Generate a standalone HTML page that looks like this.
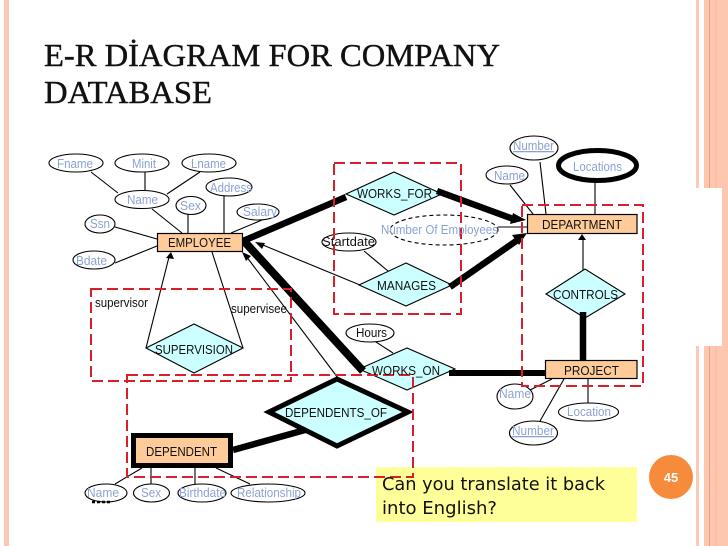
<!DOCTYPE html>
<html>
<head>
<meta charset="utf-8">
<style>
html,body{margin:0;padding:0;background:#fff}
svg{display:block}
.a{font:13px "Liberation Sans",sans-serif;fill:#8aa3d3}
.k{font:13px "Liberation Sans",sans-serif;fill:#111}
.e{fill:#fff;stroke:#000;stroke-width:1.1}
.l{stroke:#000;stroke-width:1.1;fill:none}
.d{fill:#ccffff;stroke:#000;stroke-width:1.1}
.r{fill:#ffcc99;stroke:#000;stroke-width:1.2}
.t{stroke:#000;fill:none}
.red{fill:none;stroke:#d9202a;stroke-width:2;stroke-dasharray:11 5}
</style>
</head>
<body>
<svg width="728" height="546" viewBox="0 0 728 546" xmlns="http://www.w3.org/2000/svg">
<rect width="728" height="546" fill="#fff"/>
<!-- side stripes -->
<rect x="4" y="0" width="5" height="546" fill="#fcc8b6"/>
<rect x="696" y="0" width="3" height="546" fill="#fbc9b6"/>
<rect x="704" y="0" width="24" height="546" fill="#fdc6ae"/>
<rect x="709" y="0" width="1" height="546" fill="#ee9f78"/>
<rect x="715" y="0" width="2" height="546" fill="#fbbfa6"/>
<rect x="620" y="188" width="102" height="158" fill="#fff"/>

<!-- title -->
<text x="44" y="66" font-family="'Liberation Serif',serif" font-size="32" fill="#111" stroke="#111" stroke-width="0.4" textLength="456" lengthAdjust="spacingAndGlyphs">E-R DİAGRAM FOR COMPANY</text>
<text x="44" y="103" font-family="'Liberation Serif',serif" font-size="32" fill="#111" stroke="#111" stroke-width="0.4" textLength="168" lengthAdjust="spacingAndGlyphs">DATABASE</text>

<!-- yellow note -->
<rect x="376" y="467" width="261" height="55" fill="#ffff99"/>

<!-- attribute lines -->
<path class="l" d="M91 172L118 193M145 172V190M200 172L167 194M152 209L182 233M188 214V233M224 196V233M231 233L262 220M115 227L157 239M115 263L157 246"/>
<path class="l" d="M540 162L546 214M510 185L533 214M595 183V214M498 227H527M364 251L394 276M376 342L393 353"/>
<path class="l" d="M552 379L530 390M564 379L540 421M588 379V403"/>
<path class="l" d="M142 468L115 484M151 468V484M195 468V484M216 468L250 484"/>

<!-- diamonds -->
<polygon class="d" points="346,194 394,172 442,194 394,215"/>
<polygon class="d" points="359,285 406,263 452,285 406,306"/>
<polygon class="d" points="359,369 407,348 455,369 407,390"/>
<polygon class="d" points="546,294 585,269 625,294 585,318"/>
<polygon class="d" points="146,348 194,324 243,348 194,373"/>
<polygon fill="#ccffff" stroke="#000" stroke-width="5" stroke-linejoin="miter" points="269,412 337,379 408,412 337,446"/>

<!-- thin relationship lines + arrows -->
<path class="l" d="M360 285L258 243M338 378L246 256M583 270V238M146 348L169 257M243 348L212 252"/>
<polygon points="255,242 265,243 262,249" fill="#000"/>
<polygon points="242,252 251,256 246,261" fill="#000"/>
<polygon points="582,234 586,240 578,240" fill="#000"/>
<polygon points="171,252 174,259 166,258" fill="#000"/>

<!-- thick lines -->
<path class="t" stroke-width="6.500" d="M243 241L346 197"/>
<path class="t" stroke-width="6.500" d="M437 191L516 220"/>
<polygon points="526,220 513,213 510,224" fill="#000"/>
<path class="t" stroke-width="6.500" d="M450 287L519 239"/>
<polygon points="527,233 512,235 519,245" fill="#000"/>
<path class="t" stroke-width="8" d="M243 240L363 371"/>
<path class="t" stroke-width="6" d="M449 373H546"/>
<path class="t" stroke-width="6.500" d="M583 312V360"/>
<path class="t" stroke-width="6.500" d="M233 450L305 430"/>

<!-- entities -->
<rect class="r" x="157.500" y="233.500" width="85" height="18"/>
<rect class="r" x="527.500" y="214.500" width="109.500" height="19"/>
<rect class="r" x="545.500" y="360.500" width="91.500" height="18"/>
<rect x="133.500" y="435.500" width="97" height="30" fill="#ffcc99" stroke="#000" stroke-width="5"/>

<!-- ellipses -->
<ellipse class="e" cx="76" cy="163" rx="27" ry="9"/>
<ellipse class="e" cx="142" cy="163" rx="27" ry="9"/>
<ellipse class="e" cx="209" cy="163" rx="27" ry="9"/>
<ellipse class="e" cx="142" cy="199.500" rx="27" ry="9"/>
<ellipse class="e" cx="229" cy="187" rx="23" ry="9"/>
<ellipse class="e" cx="191" cy="205.500" rx="15" ry="9"/>
<ellipse class="e" cx="258" cy="212" rx="21" ry="8"/>
<ellipse class="e" cx="100" cy="224" rx="15" ry="9"/>
<ellipse class="e" cx="94" cy="260" rx="21" ry="9"/>
<ellipse class="e" cx="534" cy="148" rx="24" ry="12"/>
<ellipse class="e" cx="507" cy="175" rx="21" ry="9"/>
<ellipse cx="597.500" cy="165.500" rx="39" ry="15" fill="#fff" stroke="#000" stroke-width="5"/>
<ellipse cx="444" cy="230" rx="54" ry="15" fill="#fff" stroke="#000" stroke-width="1.100" stroke-dasharray="4 3"/>
<ellipse class="e" cx="349" cy="242" rx="27" ry="9"/>
<ellipse class="e" cx="370" cy="333" rx="24" ry="9"/>
<ellipse class="e" cx="515" cy="396.500" rx="18" ry="12.500"/>
<ellipse class="e" cx="533.500" cy="433" rx="24" ry="12"/>
<ellipse class="e" cx="588.500" cy="412" rx="30" ry="9"/>
<ellipse class="e" cx="106" cy="493" rx="21" ry="9"/>
<ellipse class="e" cx="151.500" cy="493" rx="18" ry="9"/>
<ellipse class="e" cx="202" cy="493" rx="24" ry="9"/>
<ellipse class="e" cx="268" cy="493" rx="37" ry="9"/>
<path d="M92 502H112" stroke="#000" stroke-width="2.500" stroke-dasharray="3 2" fill="none"/>

<!-- red dashed boxes -->
<rect class="red" x="91" y="289" width="200" height="92"/>
<rect class="red" x="127" y="375" width="286" height="102"/>
<rect class="red" x="334" y="163" width="127" height="151"/>
<rect class="red" x="522" y="205" width="121" height="181"/>

<!-- attribute labels -->
<text class="a" x="57" y="168" textLength="36" lengthAdjust="spacingAndGlyphs">Fname</text>
<text class="a" x="132" y="168" textLength="24" lengthAdjust="spacingAndGlyphs">Minit</text>
<text class="a" x="191" y="168" textLength="35" lengthAdjust="spacingAndGlyphs">Lname</text>
<text class="a" x="127" y="204" textLength="31" lengthAdjust="spacingAndGlyphs">Name</text>
<text class="a" x="210" y="192" textLength="42" lengthAdjust="spacingAndGlyphs">Address</text>
<text class="a" x="180" y="210" textLength="21" lengthAdjust="spacingAndGlyphs">Sex</text>
<text class="a" x="243" y="216" textLength="34" lengthAdjust="spacingAndGlyphs">Salary</text>
<text class="a" x="90" y="228" textLength="20" lengthAdjust="spacingAndGlyphs">Ssn</text>
<text class="a" x="76" y="265" textLength="31" lengthAdjust="spacingAndGlyphs">Bdate</text>
<text class="a" x="513" y="150" textLength="41" lengthAdjust="spacingAndGlyphs" text-decoration="underline">Number</text>
<text class="a" x="494" y="180" textLength="31" lengthAdjust="spacingAndGlyphs">Name</text>
<text class="a" x="573" y="171" textLength="49" lengthAdjust="spacingAndGlyphs">Locations</text>
<text class="a" x="381" y="234" textLength="117" lengthAdjust="spacingAndGlyphs">Number Of Employees</text>
<text class="a" x="499" y="398" textLength="32" lengthAdjust="spacingAndGlyphs">Name</text>
<text class="a" x="512" y="435" textLength="42" lengthAdjust="spacingAndGlyphs" text-decoration="underline">Number</text>
<text class="a" x="567" y="416" textLength="44" lengthAdjust="spacingAndGlyphs">Location</text>
<text class="a" x="87" y="497" textLength="32" lengthAdjust="spacingAndGlyphs">Name</text>
<text class="a" x="141" y="497" textLength="20" lengthAdjust="spacingAndGlyphs">Sex</text>
<text class="a" x="179" y="497" textLength="47" lengthAdjust="spacingAndGlyphs">Birthdate</text>
<text class="a" x="237" y="497" textLength="64" lengthAdjust="spacingAndGlyphs">Relationship</text>

<!-- key labels -->
<text class="k" x="168" y="247" textLength="63" lengthAdjust="spacingAndGlyphs">EMPLOYEE</text>
<text class="k" x="542" y="229" textLength="80" lengthAdjust="spacingAndGlyphs">DEPARTMENT</text>
<text class="k" x="564" y="375" textLength="55" lengthAdjust="spacingAndGlyphs">PROJECT</text>
<text class="k" x="146" y="456" textLength="71" lengthAdjust="spacingAndGlyphs">DEPENDENT</text>
<text class="k" x="357" y="198" textLength="75" lengthAdjust="spacingAndGlyphs">WORKS_FOR</text>
<text class="k" x="377" y="290" textLength="59" lengthAdjust="spacingAndGlyphs">MANAGES</text>
<text class="k" x="372" y="375" textLength="68" lengthAdjust="spacingAndGlyphs">WORKS_ON</text>
<text class="k" x="553" y="299" textLength="65" lengthAdjust="spacingAndGlyphs">CONTROLS</text>
<text class="k" x="155" y="354" textLength="78" lengthAdjust="spacingAndGlyphs">SUPERVISION</text>
<text class="k" x="285" y="417" textLength="102" lengthAdjust="spacingAndGlyphs">DEPENDENTS_OF</text>
<text class="k" x="95" y="307" textLength="53" lengthAdjust="spacingAndGlyphs">supervisor</text>
<text class="k" x="231" y="313" textLength="56" lengthAdjust="spacingAndGlyphs">supervisee</text>
<text class="k" x="322" y="246" textLength="53" lengthAdjust="spacingAndGlyphs">Startdate</text>
<text class="k" x="356" y="337" textLength="31" lengthAdjust="spacingAndGlyphs">Hours</text>

<!-- note text -->
<text x="382" y="490" font-family="'DejaVu Sans',sans-serif" font-size="18" fill="#111" textLength="223" lengthAdjust="spacingAndGlyphs">Can you translate it back</text>
<text x="382" y="514" font-family="'DejaVu Sans',sans-serif" font-size="18" fill="#111" textLength="115" lengthAdjust="spacingAndGlyphs">into English?</text>

<!-- page number -->
<circle cx="671" cy="477" r="22" fill="#f68b3c"/>
<text x="671" y="482" text-anchor="middle" font-family="'Liberation Sans',sans-serif" font-size="13" font-weight="bold" fill="#fff">45</text>
</svg>
</body>
</html>
